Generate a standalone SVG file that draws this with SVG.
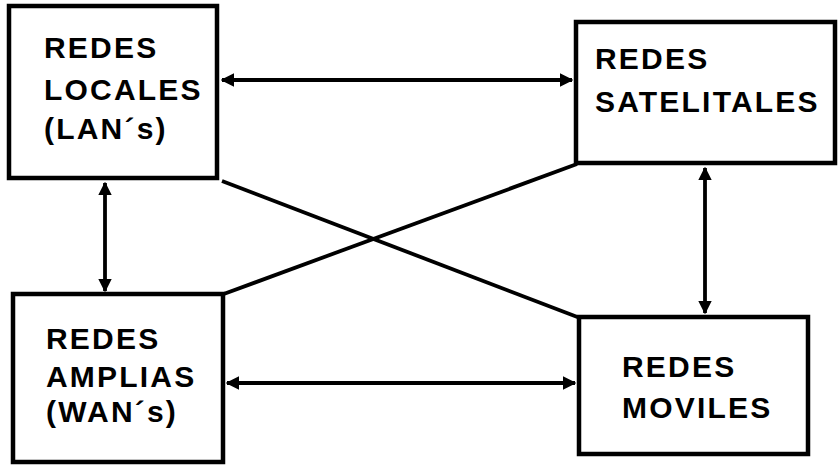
<svg xmlns="http://www.w3.org/2000/svg" width="839" height="465" viewBox="0 0 839 465">
<style>
.box{fill:#fff;stroke:#000;stroke-width:4.5}
.t{font-family:"Liberation Sans",Arial,sans-serif;font-weight:bold;font-size:30px;letter-spacing:2.2px;fill:#000}
.c{stroke:#000;stroke-width:3.8;fill:none}
</style>
<defs>
<marker id="ah" viewBox="0 0 10 10" refX="9" refY="5" markerWidth="3.6" markerHeight="3.6" orient="auto-start-reverse" markerUnits="strokeWidth">
<path d="M0,0 L10,5 L0,10 z" fill="#000"/>
</marker>
</defs>
<rect width="839" height="465" fill="#fff"/>
<g id="connectors">
<line class="c" x1="222" y1="181" x2="580" y2="318"/>
<line class="c" x1="221" y1="295" x2="577" y2="164"/>
<line class="c" x1="222" y1="80" x2="572" y2="80" marker-start="url(#ah)" marker-end="url(#ah)"/>
<line class="c" x1="105" y1="183" x2="105" y2="291" marker-start="url(#ah)" marker-end="url(#ah)"/>
<line class="c" x1="705" y1="168" x2="705" y2="313" marker-start="url(#ah)" marker-end="url(#ah)"/>
<line class="c" x1="227" y1="383" x2="575" y2="383" marker-start="url(#ah)" marker-end="url(#ah)"/>
</g>
<g id="lan">
<rect class="box" x="9" y="6" width="208" height="172"/>
<text class="t" x="44" y="58">REDES</text>
<text class="t" x="44" y="100">LOCALES</text>
<text class="t" x="44" y="139">(LAN´s)</text>
</g>
<g id="sat">
<rect class="box" x="576" y="22" width="259" height="141"/>
<text class="t" x="595" y="69">REDES</text>
<text class="t" x="595" y="112">SATELITALES</text>
</g>
<g id="wan">
<rect class="box" x="13" y="294" width="210" height="168"/>
<text class="t" x="46" y="349">REDES</text>
<text class="t" x="46" y="387">AMPLIAS</text>
<text class="t" x="46" y="422">(WAN´s)</text>
</g>
<g id="mov">
<rect class="box" x="579" y="317" width="229" height="137"/>
<text class="t" x="622" y="377">REDES</text>
<text class="t" x="622" y="418">MOVILES</text>
</g>
</svg>
